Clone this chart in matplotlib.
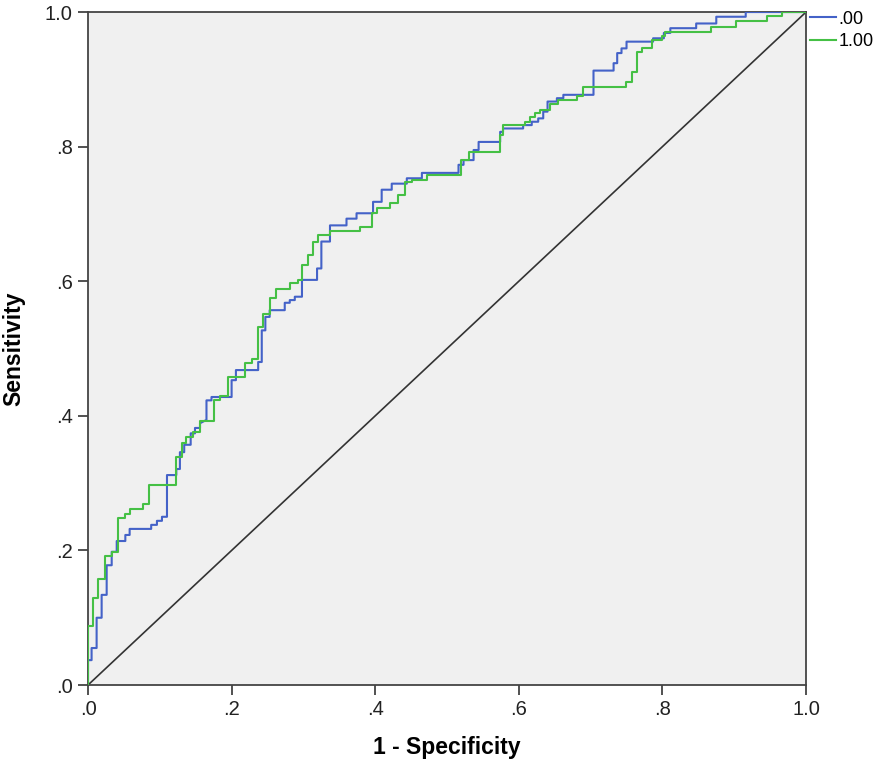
import matplotlib
matplotlib.use("Agg")
import matplotlib.pyplot as plt

plt.rcParams['font.family'] = ['Liberation Sans', 'DejaVu Sans']

# ROC curve data (vertices of the step curves)
fpr_00 = [0.000, 0.000, 0.005, 0.005, 0.012, 0.012, 0.019, 0.019, 0.026, 0.026,
          0.033, 0.033, 0.040, 0.040, 0.052, 0.052, 0.058, 0.058, 0.088, 0.088,
          0.096, 0.096, 0.103, 0.103, 0.110, 0.110, 0.123, 0.123, 0.128, 0.128,
          0.134, 0.134, 0.143, 0.143, 0.149, 0.149, 0.156, 0.156, 0.165, 0.165,
          0.172, 0.172, 0.200, 0.200, 0.206, 0.206, 0.237, 0.237, 0.242, 0.242,
          0.247, 0.247, 0.253, 0.253, 0.274, 0.274, 0.281, 0.281, 0.288, 0.288,
          0.298, 0.298, 0.319, 0.319, 0.325, 0.325, 0.337, 0.337, 0.360, 0.360,
          0.374, 0.374, 0.397, 0.397, 0.409, 0.409, 0.423, 0.423, 0.444, 0.444,
          0.465, 0.465, 0.516, 0.516, 0.523, 0.523, 0.537, 0.537, 0.544, 0.544,
          0.574, 0.574, 0.578, 0.578, 0.606, 0.606, 0.618, 0.618, 0.627, 0.627,
          0.634, 0.634, 0.640, 0.640, 0.653, 0.653, 0.662, 0.662, 0.704, 0.704,
          0.732, 0.732, 0.737, 0.737, 0.743, 0.743, 0.750, 0.750, 0.787, 0.787,
          0.802, 0.802, 0.811, 0.811, 0.847, 0.847, 0.875, 0.875, 0.916, 0.916,
          1.000]
tpr_00 = [0.000, 0.037, 0.037, 0.055, 0.055, 0.100, 0.100, 0.134, 0.134, 0.178,
          0.178, 0.198, 0.198, 0.214, 0.214, 0.223, 0.223, 0.232, 0.232, 0.238,
          0.238, 0.244, 0.244, 0.250, 0.250, 0.312, 0.312, 0.321, 0.321, 0.346,
          0.346, 0.357, 0.357, 0.374, 0.374, 0.382, 0.382, 0.389, 0.394, 0.423,
          0.423, 0.428, 0.428, 0.453, 0.453, 0.468, 0.468, 0.480, 0.480, 0.527,
          0.527, 0.547, 0.547, 0.557, 0.557, 0.568, 0.568, 0.572, 0.572, 0.577,
          0.577, 0.602, 0.602, 0.619, 0.619, 0.659, 0.659, 0.683, 0.683, 0.693,
          0.693, 0.701, 0.701, 0.718, 0.718, 0.736, 0.736, 0.745, 0.745, 0.753,
          0.753, 0.761, 0.761, 0.773, 0.773, 0.780, 0.780, 0.795, 0.795, 0.807,
          0.807, 0.822, 0.822, 0.827, 0.827, 0.832, 0.832, 0.837, 0.837, 0.842,
          0.842, 0.852, 0.852, 0.867, 0.867, 0.872, 0.872, 0.877, 0.877, 0.913,
          0.913, 0.924, 0.924, 0.939, 0.939, 0.946, 0.946, 0.956, 0.956, 0.961,
          0.961, 0.969, 0.969, 0.976, 0.976, 0.983, 0.983, 0.993, 0.993, 1.000,
          1.000]

fpr_100 = [0.000, 0.000, 0.007, 0.007, 0.014, 0.014, 0.024, 0.024, 0.033, 0.033,
           0.042, 0.042, 0.052, 0.052, 0.059, 0.059, 0.077, 0.077, 0.085, 0.085,
           0.123, 0.123, 0.131, 0.131, 0.136, 0.136, 0.146, 0.146, 0.156, 0.156,
           0.175, 0.175, 0.184, 0.184, 0.195, 0.195, 0.219, 0.219, 0.228, 0.228,
           0.237, 0.237, 0.244, 0.244, 0.253, 0.253, 0.262, 0.262, 0.281, 0.281,
           0.293, 0.293, 0.298, 0.298, 0.307, 0.307, 0.314, 0.314, 0.321, 0.321,
           0.337, 0.337, 0.379, 0.379, 0.395, 0.395, 0.402, 0.402, 0.421, 0.421,
           0.432, 0.432, 0.441, 0.441, 0.451, 0.451, 0.472, 0.472, 0.520, 0.520,
           0.530, 0.530, 0.574, 0.574, 0.578, 0.578, 0.609, 0.609, 0.616, 0.616,
           0.623, 0.623, 0.630, 0.630, 0.643, 0.643, 0.655, 0.655, 0.681, 0.681,
           0.690, 0.690, 0.749, 0.749, 0.757, 0.757, 0.764, 0.764, 0.771, 0.771,
           0.785, 0.785, 0.799, 0.799, 0.804, 0.804, 0.868, 0.868, 0.903, 0.903,
           0.946, 0.946, 0.967, 0.967, 1.000]
tpr_100 = [0.000, 0.087, 0.087, 0.129, 0.129, 0.158, 0.158, 0.192, 0.192, 0.198,
           0.198, 0.248, 0.248, 0.254, 0.254, 0.262, 0.262, 0.269, 0.269, 0.297,
           0.297, 0.339, 0.339, 0.360, 0.360, 0.369, 0.369, 0.376, 0.376, 0.392,
           0.392, 0.423, 0.423, 0.429, 0.429, 0.458, 0.458, 0.478, 0.478, 0.485,
           0.485, 0.532, 0.532, 0.552, 0.552, 0.575, 0.575, 0.589, 0.589, 0.597,
           0.597, 0.602, 0.602, 0.624, 0.624, 0.639, 0.639, 0.659, 0.659, 0.669,
           0.669, 0.674, 0.674, 0.680, 0.680, 0.701, 0.701, 0.709, 0.709, 0.716,
           0.716, 0.728, 0.728, 0.748, 0.748, 0.751, 0.751, 0.758, 0.758, 0.780,
           0.780, 0.792, 0.792, 0.817, 0.817, 0.832, 0.832, 0.837, 0.837, 0.844,
           0.844, 0.850, 0.850, 0.854, 0.854, 0.864, 0.864, 0.869, 0.869, 0.875,
           0.875, 0.889, 0.889, 0.896, 0.896, 0.911, 0.911, 0.941, 0.941, 0.947,
           0.947, 0.958, 0.958, 0.964, 0.964, 0.970, 0.970, 0.978, 0.978, 0.987,
           0.987, 0.994, 0.994, 1.000, 1.000]

ticks = [0.0, 0.2, 0.4, 0.6, 0.8, 1.0]
tick_labels = ['.0', '.2', '.4', '.6', '.8', '1.0']

fig = plt.figure(figsize=(8.88, 7.62), dpi=100)
ax = fig.add_axes([0.0991, 0.101, 0.8086, 0.8832])
ax.set_facecolor('#f0f0f0')

ax.plot([0, 1], [0, 1], color='#333333', lw=1.2, zorder=2)
ax.plot(fpr_00, tpr_00, color='#4462c8', lw=1.5, label='.00', zorder=3)
ax.plot(fpr_100, tpr_100, color='#45c045', lw=1.5, label='1.00', zorder=3)

ax.set_xlim(0, 1)
ax.set_ylim(0, 1)
ax.set_xticks(ticks)
ax.set_xticklabels(tick_labels)
ax.set_yticks(ticks)
ax.set_yticklabels(tick_labels)
ax.tick_params(direction='out', length=7, width=1.2, color='#333333',
               labelsize=14.5, labelcolor='#222222', pad=4)

for s in ax.spines.values():
    s.set_color('#444444')
    s.set_linewidth(1.3)

ax.set_xlabel('1 - Specificity', fontsize=16.5, fontweight='bold', labelpad=12)
ax.set_ylabel('Sensitivity', fontsize=16.5, fontweight='bold', labelpad=14)

ax.legend(loc='upper left', bbox_to_anchor=(1.006, 1.002), frameon=False,
          fontsize=13, handlelength=1.4, handletextpad=0.15, labelspacing=0.3,
          borderaxespad=0.0, borderpad=0.0)

fig.savefig('out.png', dpi=100)
